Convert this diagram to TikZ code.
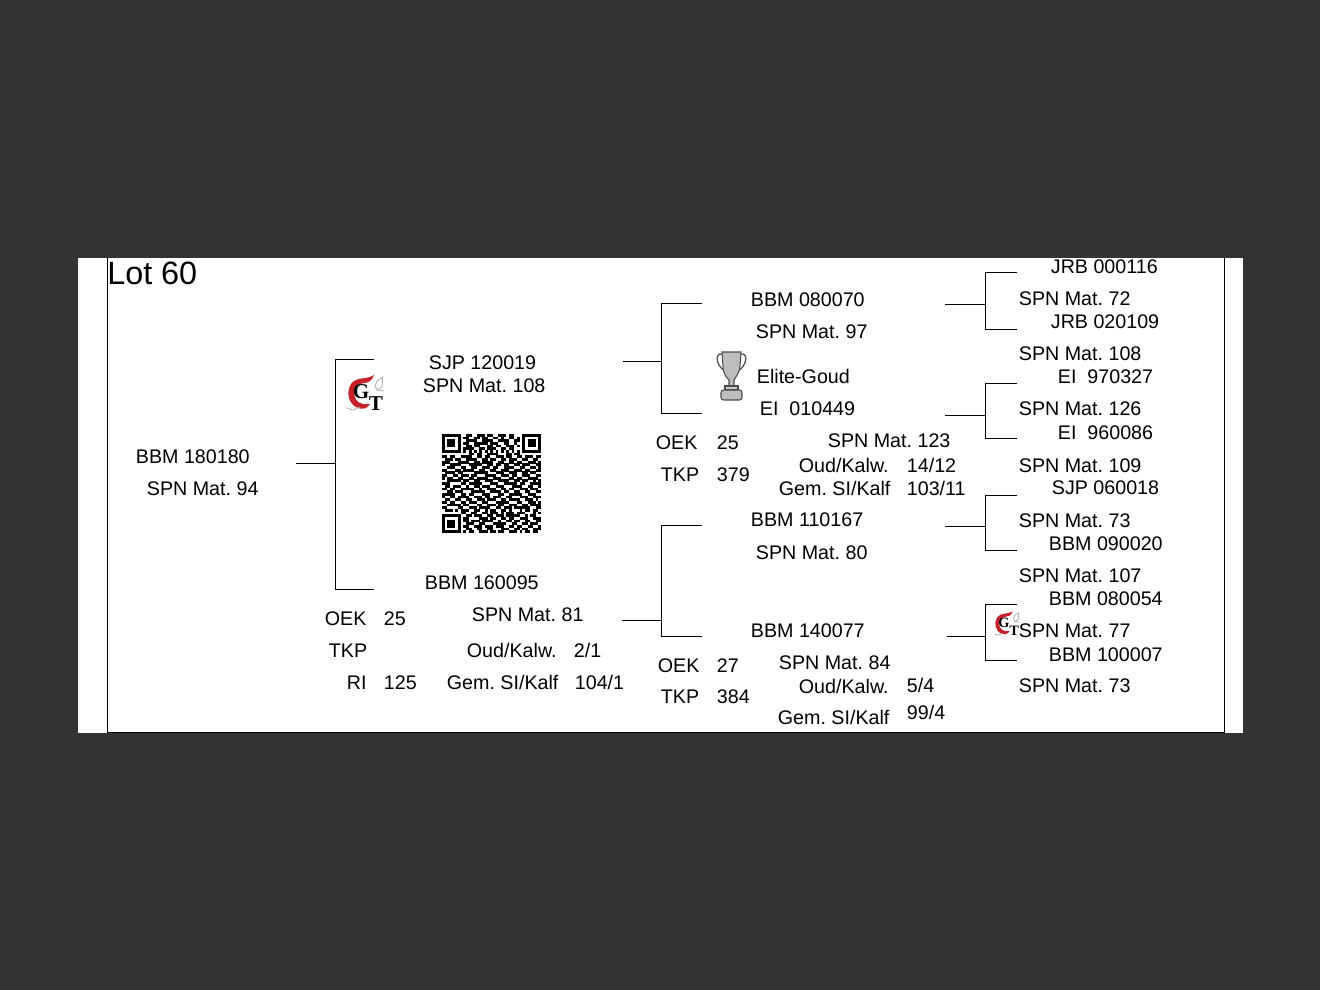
\documentclass[tikz,border=0pt]{standalone}
\usepackage{xcolor}
\usepackage{fontspec}
\setmainfont{Liberation Sans}
\newfontfamily\logofont{Liberation Serif}
\usepackage{tikz}
\definecolor{backdrop}{HTML}{333333}
\definecolor{logored}{HTML}{C8202A}
\definecolor{cupgrey}{HTML}{BDBDBD}
\newcount\qrcol
\newcount\qrrow
\def\qrcell#1{\ifx#1.\else\if#11\fill[black] ({442+2.676*\the\qrcol},{434+2.676*\the\qrrow}) rectangle ++(2.75,2.75);\fi\global\advance\qrcol by 1 \expandafter\qrcell\fi}
\tikzset{
  lbl/.style={anchor=base west, inner sep=0pt, xshift=-0.25pt, font=\fontsize{11.2}{13}\selectfont, text=black},
  lot/.style={anchor=base west, inner sep=0pt, font=\fontsize{18.4}{22}\selectfont, text=black},
  link/.style={draw=black, line width=0.45pt},
  pics/gtlogo/.style={code={
    \fill[logored] (26,-1) .. controls (19,4) and (9,0) .. (3,8) .. controls (-2,16) and (0,28) .. (10,32) .. controls (15,34) and (20,32) .. (22,28) -- (15,28) .. controls (9,27) and (6,22) .. (6,16) .. controls (6,10) and (11,8) .. (16,7) .. controls (20,7) and (24,5) .. (26,-1) -- cycle;
    \draw[gray!70, line width=0.4pt] (27,10) -- (29,5) -- (35,1) -- (34,11) -- (29,14) -- cycle;
    \draw[gray!70, line width=0.4pt] (29,14) -- (36,15);
    \draw[gray!70, line width=0.4pt] (-1,32) -- (5,34) -- (12,31);
    \node[inner sep=0pt, font=\logofont\bfseries\fontsize{12}{12}\selectfont, transform shape] (-g) at (13,16) {G};
    \node[inner sep=0pt, font=\logofont\bfseries\fontsize{12}{12}\selectfont, transform shape] (-t) at (28,28) {T};
  }},
}
\begin{document}
\frenchspacing
\begin{tikzpicture}[x=0.02cm, y=-0.02cm]
\useasboundingbox (0,0) rectangle (1320,990);
\fill[backdrop] (0,0) rectangle (1320,990);
\fill[white] (78,258) rectangle (1243,733);
% frame
\coordinate (ftl) at (107.5,258);
\coordinate (fbl) at (107.5,732.5);
\coordinate (fbr) at (1224.5,732.5);
\coordinate (ftr) at (1224.5,258);
\draw[link] (ftl) -- (fbl) -- (fbr) -- (ftr);

\node[lot] (lot) at (107,284) {Lot 60};

% left column
\node[lbl] (sire) at (136,463) {BBM 180180};
\node[lbl] (sirespn) at (147,495) {SPN Mat. 94};

% second column
\node[lbl] (pa) at (429,369) {SJP 120019};
\node[lbl] (paspn) at (423,392) {SPN Mat. 108};
\node[lbl] (ma) at (425,589) {BBM 160095};
\node[lbl] (maspn) at (472,621) {SPN Mat. 81};
\node[lbl] (oeka) at (325,625) {OEK};
\node[lbl] (oekav) at (384,625) {25};
\node[lbl] (tkpa) at (329,657) {TKP};
\node[lbl] (kalwa) at (467,657) {Oud/Kalw.};
\node[lbl] (kalwav) at (574,657) {2/1};
\node[lbl] (ria) at (347,689) {RI};
\node[lbl] (riav) at (384,689) {125};
\node[lbl] (gema) at (447,689) {Gem. SI/Kalf};
\node[lbl] (gemav) at (575,689) {104/1};

% third column
\node[lbl] (ppa) at (751,306) {BBM 080070};
\node[lbl] (ppaspn) at (756,338) {SPN Mat. 97};
\node[lbl] (elite) at (757,383) {Elite-Goud};
\node[lbl] (pma) at (760,415) {EI\ \ 010449};
\node[lbl] (oekb) at (656,449) {OEK};
\node[lbl] (oekbv) at (717,449) {25};
\node[lbl] (tkpb) at (661,481) {TKP};
\node[lbl] (tkpbv) at (717,481) {379};
\node[lbl] (pmaspn) at (828,447) {SPN Mat. 123};
\node[lbl] (kalwb) at (799,472) {Oud/Kalw.};
\node[lbl] (kalwbv) at (907,472) {14/12};
\node[lbl] (gemb) at (779,495) {Gem. SI/Kalf};
\node[lbl] (gembv) at (907,495) {103/11};
\node[lbl] (mpa) at (751,526) {BBM 110167};
\node[lbl] (mpaspn) at (756,559) {SPN Mat. 80};
\node[lbl] (mma) at (751,637) {BBM 140077};
\node[lbl] (oekc) at (658,672) {OEK};
\node[lbl] (oekcv) at (717,672) {27};
\node[lbl] (tkpc) at (661,703) {TKP};
\node[lbl] (tkpcv) at (717,703) {384};
\node[lbl] (mmaspn) at (779,669) {SPN Mat. 84};
\node[lbl] (kalwc) at (799,693) {Oud/Kalw.};
\node[lbl] (kalwcv) at (907,692) {5/4};
\node[lbl] (gemc) at (778,724) {Gem. SI/Kalf};
\node[lbl] (gemcv) at (907,719) {99/4};

% right column
\node[lbl] (r1) at (1051,274) {JRB 000116};
\node[lbl] (r1s) at (1019,305) {SPN Mat. 72};
\node[lbl] (r2) at (1051,328) {JRB 020109};
\node[lbl] (r2s) at (1019,360) {SPN Mat. 108};
\node[lbl] (r3) at (1058,383) {EI\ \ 970327};
\node[lbl] (r3s) at (1019,415) {SPN Mat. 126};
\node[lbl] (r4) at (1058,439) {EI\ \ 960086};
\node[lbl] (r4s) at (1019,472) {SPN Mat. 109};
\node[lbl] (r5) at (1052,494) {SJP 060018};
\node[lbl] (r5s) at (1019,527) {SPN Mat. 73};
\node[lbl] (r6) at (1049,550) {BBM 090020};
\node[lbl] (r6s) at (1019,582) {SPN Mat. 107};
\node[lbl] (r7) at (1049,605) {BBM 080054};
\node[lbl] (r7s) at (1019,637) {SPN Mat. 77};
\node[lbl] (r8) at (1049,661) {BBM 100007};
\node[lbl] (r8s) at (1019,692) {SPN Mat. 73};

% brackets
\foreach \nm/\xa/\ya/\xs/\yt/\yb/\xe in {
  a/296/463.5/335.5/359.5/589.5/374,
  b/623/361.5/661.5/303.5/413.5/702,
  c/622/620.5/661.5/525.5/636.5/702,
  d/945/304.5/985.5/272.5/329.5/1017,
  e/945/415.5/985.5/383.5/438.5/1017,
  f/945/526.5/985.5/495.5/550.5/1017,
  g/947/636.5/985.5/604.5/660.5/1017}{
  \coordinate (\nm in) at (\xa,\ya);
  \coordinate (\nm mid) at (\xs,\ya);
  \coordinate (\nm top) at (\xe,\yt);
  \coordinate (\nm low) at (\xe,\yb);
  \draw[link] (\nm in) -- (\nm mid);
  \draw[link] (\nm top) -- (\xs,\yt) -- (\xs,\yb) -- (\nm low);
}

% logos
\pic (gta) at (348,376) {gtlogo};
\pic[scale=0.68] (gtb) at (995,612) {gtlogo};

% trophy
\draw[black!70, line width=0.7pt] (723,354) .. controls (714,352) and (716,366) .. (725,371);
\draw[black!70, line width=0.7pt] (740,354) .. controls (749,352) and (747,366) .. (738,371);
\draw[black!70, fill=cupgrey, line width=0.6pt] (722,352) -- (741,352) -- (740,366) .. controls (739,374) and (735,378) .. (734,380) -- (734,386) -- (729,386) -- (729,380) .. controls (727,378) and (723,374) .. (723,366) -- cycle;
\draw[black!70, fill=cupgrey!80, line width=0.6pt] (725,386) rectangle (738,390);
\draw[black!70, fill=cupgrey, line width=0.6pt, rounded corners=1.5pt] (721,390) rectangle (742,400);

% qr code
\global\qrrow=0
\foreach \rowbits in {
  1111111 00110 01110 11001 11011 000 1111111,
  1000001 01100 11011 00110 10011 010 1000001,
  1011101 00111 10011 11001 11100 110 1011101,
  1011101 01100 11111 01110 01100 100 1011101,
  1011101 00110 11000 11011 00111 010 1011101,
  1000001 01111 00110 11100 11011 000 1000001,
  1111111 01010 10101 01010 10101 010 1111111,
  0000000 00011 01100 11110 00110 110 0000000,
  11011 00111 10011 01100 11101 10011 01110 11,
  01110 11001 11100 11011 00110 11100 11001 10,
  11100 01111 00110 11110 01100 11011 00111 01,
  10011 11000 11111 00110 11011 00110 11100 11,
  00111 00110 01100 11101 10011 11001 10011 01,
  11000 11011 11001 10011 00111 00111 01100 11,
  01111 01100 00111 11000 11100 11100 11011 00,
  11001 10111 01100 01111 00111 01100 11100 11,
  10110 01100 11011 11001 11000 11011 00111 10,
  00111 11011 00110 01110 01111 00110 11001 01,
  11100 00110 11111 00011 10011 11101 10011 11,
  01101 11001 00110 11100 11100 01111 00110 01,
  11011 00111 11001 00111 00110 11001 11011 10,
  00110 11100 01111 10011 11011 00110 01100 11,
  11111 00110 11000 11100 01100 11111 00111 00,
  10011 01111 00111 01101 11001 10001 11001 11,
  01100 11001 10011 10111 00110 11110 01110 10,
  11011 00110 11100 11000 11111 00011 00111 01,
  00111 11011 00011 00111 01100 11100 11011 11,
  11000 01100 11101 11100 11011 10111 11100 11,
  01110 10111 00110 01011 00110 10001 01101 10,
  0000000 11001 10011 01110 10111 011 1000101,
  1111111 00110 11100 11011 10111 110 0101100,
  1000001 01100 00111 01100 11011 001 1100111,
  1011101 01101 11011 11001 00110 110 0110011,
  1011101 00111 00110 00111 11001 100 1101110,
  1011101 01100 11101 11011 10011 011 0011001,
  1000001 00110 01100 11000 11100 110 1100111,
  1111111 01011 00111 01101 10011 101 0110110}{
  \global\qrcol=0
  \expandafter\qrcell\rowbits.
  \global\advance\qrrow by 1
}
\end{tikzpicture}
\end{document}
